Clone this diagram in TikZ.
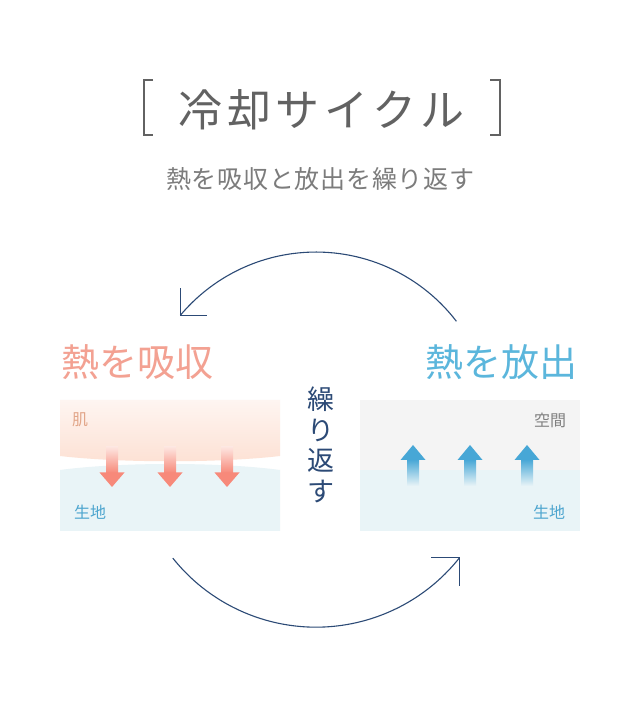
\documentclass[tikz,border=0pt]{standalone}
\usepackage{fontspec}
\newfontfamily\jp{Noto Sans CJK JP}
\newfontfamily\jptitle[LetterSpace=11]{Noto Sans CJK JP}
\newfontfamily\jpsub[LetterSpace=3]{Noto Sans CJK JP}
\usetikzlibrary{calc}
\definecolor{navy}{HTML}{2C4A76}
\definecolor{titlegray}{HTML}{626262}
\definecolor{subgray}{HTML}{7C7C7C}
\definecolor{salmon}{HTML}{F3A192}
\definecolor{arrsalmon}{HTML}{F7897A}
\definecolor{skintop}{HTML}{FEF5F1}
\definecolor{skinbot}{HTML}{FDE1D4}
\definecolor{fabric}{HTML}{E9F4F7}
\definecolor{airgray}{HTML}{F4F4F4}
\definecolor{skyblue}{HTML}{5BB6DC}
\definecolor{arrblue}{HTML}{47A7D6}
\definecolor{labblue}{HTML}{4DA5CF}
\definecolor{skinlab}{HTML}{E2A689}
\definecolor{spacegray}{HTML}{808080}
\tikzset{
  jptext/.style={inner sep=0pt, font=\jp},
  cyc/.style={draw=navy, line width=1.1pt},
  bracket/.style={draw=titlegray, line width=1.3pt},
  small/.style={jptext, font=\jp\fontsize{16}{16}\selectfont},
}
\begin{document}
\begin{tikzpicture}[x=1pt,y=1pt]
\useasboundingbox (0,0) rectangle (640,708);
\fill[white] (0,0) rectangle (640,708);

% title
\node[jptext, text=titlegray, font=\jptitle\fontsize{44}{44}\selectfont, anchor=west] (title) at (178,598) {冷却サイクル};
\draw[bracket] (153,628) -- (144,628) -- (144,573) -- (153,573);
\draw[bracket] (490,628) -- (500,628) -- (500,573) -- (490,573);
\node[jptext, text=subgray, font=\jpsub\fontsize{25}{25}\selectfont, anchor=west] (subtitle) at (166,529) {熱を吸収と放出を繰り返す};

% cycle arcs
\coordinate (topstart) at (456.4,386.7);
\coordinate (toptip) at (180.4,392.8);
\draw[cyc] (topstart) arc[start angle=37.5, end angle=140, radius=177];
\draw[cyc] ($(toptip)+(0,27)$) -- (toptip) -- ($(toptip)+(27,0)$);
\coordinate (botstart) at (172.8,149.9);
\coordinate (bottip) at (459.2,150.1);
\draw[cyc] (botstart) arc[start angle=218.5, end angle=321.5, radius=183];
\draw[cyc] ($(bottip)+(-28,0)$) -- (bottip) -- ($(bottip)+(0,-28)$);

% left panel
\node[jptext, text=salmon, font=\jp\fontsize{38}{38}\selectfont] (absorb) at (137,346) {熱を吸収};
\fill[fabric] (60,177) -- (280,177) -- (280,238) .. controls (220,246) and (120,246) .. (60,238) -- cycle;
\shade[top color=skintop, bottom color=skinbot] (60,308) -- (280,308) -- (280,252) .. controls (220,245) and (120,245) .. (60,252) -- cycle;
\foreach \x/\n in {112/a,170/b,227/c}{
  \shade[top color=skinbot!60!arrsalmon!40, bottom color=arrsalmon] (\x-6,261) rectangle (\x+6,235);
  \fill[arrsalmon] (\x-12.5,235.5) -- (\x+12.5,235.5) -- (\x,221) -- cycle;
  \coordinate (down\n) at (\x,221);
}
\node[small, text=skinlab] (skin) at (80,288) {肌};
\node[small, text=labblue] (fabricL) at (90,196) {生地};

% centre
\node[jptext, text=navy, align=center, font=\jp\fontsize{27}{30.5}\selectfont] (repeat) at (321,263) {繰\\り\\返\\す};

% right panel
\node[jptext, text=skyblue, font=\jp\fontsize{38}{38}\selectfont] (release) at (501,346) {熱を放出};
\fill[airgray] (360,177) rectangle (580,308);
\fill[fabric] (360,177) rectangle (580,238);
\foreach \x/\n in {413/a,470/b,527/c}{
  \shade[top color=arrblue, bottom color=fabric] (\x-6,248.5) rectangle (\x+6,222);
  \fill[arrblue] (\x-12.5,248) -- (\x+12.5,248) -- (\x,263) -- cycle;
  \coordinate (up\n) at (\x,263);
}
\node[small, text=spacegray] (space) at (550,288) {空間};
\node[small, text=labblue] (fabricR) at (549,196) {生地};
\end{tikzpicture}
\end{document}
